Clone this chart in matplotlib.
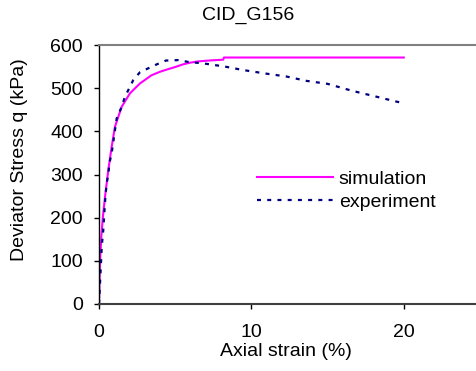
import matplotlib
matplotlib.use('Agg')
import matplotlib.pyplot as plt

plt.rcParams['font.family'] = ['Liberation Sans', 'DejaVu Sans']

# simulation curve
sim_strain = [0.0, 0.07, 0.16, 0.25, 0.4, 0.61, 0.83, 1.05, 1.49, 2.03, 2.69, 3.45, 4.0,
              4.44, 5.0, 5.5, 5.97, 6.5, 7.2, 8.15, 8.2, 20.0]
sim_q = [0, 100, 160, 200, 250, 310, 364, 411, 457, 488, 511, 530, 538,
         543, 549, 555, 559, 562, 564, 566, 571, 571]

# experiment curve
exp_strain = [0.0, 0.1, 0.18, 0.28, 0.39, 0.5, 0.61, 0.68, 0.83, 1.16, 1.49, 1.70, 2.03,
              2.25, 2.69, 3.23, 3.78, 4.39, 5.2, 5.97, 6.73, 7.5, 8.26, 9.46, 10.9,
              12.3, 13.6, 15.0, 16.6, 18.0, 19.5, 19.9]
exp_q = [0, 72, 133, 171, 234, 280, 299, 326, 349, 430, 457, 480, 503,
         519, 537, 546, 555, 564, 565, 560, 558, 554, 550, 542, 534,
         527, 517, 510, 494, 482, 469, 466]

fig = plt.figure(figsize=(4.77, 3.71), dpi=100)
ax = fig.add_axes([99 / 477, 67 / 371, 381 / 477, 259 / 371])

ax.plot(sim_strain, sim_q, color='#FF00FF', lw=1.5, label='simulation')
ax.plot(exp_strain, exp_q, color='#000080', lw=1.6, linestyle=(0, (1.8, 2.8)),
        label='experiment')

ax.set_xlim(0, 25)
ax.set_ylim(0, 600)
ax.set_xticks([0, 10, 20])
ax.set_yticks(range(0, 601, 100))
ax.tick_params(axis='both', labelsize=14, length=3.6, width=1, colors='black')
ax.tick_params(axis='x', pad=11)
ax.tick_params(axis='y', pad=8)

ax.spines['right'].set_visible(False)
ax.spines['top'].set_color('#808080')
ax.spines['top'].set_linewidth(1.5)
ax.spines['bottom'].set_color('#404040')
ax.spines['bottom'].set_linewidth(1.5)
ax.spines['left'].set_color('black')
ax.spines['left'].set_linewidth(1.0)

ax.set_xlabel('Axial strain (%)', fontsize=14, va='center')
ax.xaxis.set_label_coords((286 - 99) / 381, -(352 - 304) / 259)
ax.set_ylabel('Deviator Stress q (kPa)', fontsize=14, va='center')
ax.yaxis.set_label_coords(-(99 - 20) / 381, (304 - 160) / 259)

fig.text(248 / 477, 1 - 15 / 371, 'CID_G156', ha='center', va='center', fontsize=14)

ax.legend(loc='upper left', bbox_to_anchor=(257 / 477, 1 - 170 / 371),
          bbox_transform=fig.transFigure, frameon=False, fontsize=14,
          handlelength=3.9, handletextpad=0.3, labelspacing=0.3,
          borderpad=0, borderaxespad=0)

fig.savefig('out.png', dpi=100)
